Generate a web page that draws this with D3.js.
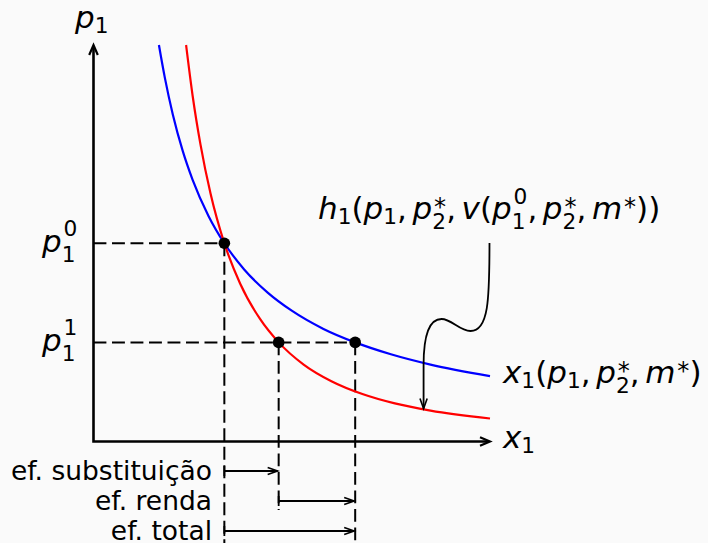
<!DOCTYPE html>
<html>
<head>
<meta charset="utf-8">
<script src="https://cdn.jsdelivr.net/npm/d3@7"></script>
<style>
  html, body { margin: 0; padding: 0; background: #fafafa; }
  svg { display: block; }
</style>
</head>
<body>
<svg id="chart" width="708" height="543"></svg>
<script>
// Marshallian demand x1(p1, p2*, m*)  (quantity, price)
const marshallX = [1.65, 1.8, 2.0, 2.25, 2.5, 2.9, 3.3, 3.8, 4.4, 5.0, 5.8, 6.6, 7.5, 8.5, 10.0];
const marshallP = [10.0, 9.17, 8.25, 7.33, 6.6, 5.69, 5.0, 4.34, 3.75, 3.3, 2.84, 2.5, 2.2, 1.94, 1.65];

// Hicksian demand h1(p1, p2*, v(p1^0, p2*, m*))
const hicksX = [2.335, 2.5, 2.7, 2.95, 3.3, 3.7, 4.2, 4.67, 5.3, 6.0, 6.8, 7.6, 8.5, 10.0];
const hicksP = [10.0, 8.72, 7.48, 6.26, 5.0, 3.98, 3.09, 2.5, 1.94, 1.52, 1.19, 0.96, 0.78, 0.58];

// Price levels before (0) and after (1) the change
const priceLevels = [5.0, 2.5];
const priceTags = ["0", "1"];

// Chosen bundles: initial, compensated, final
const pointX = [3.3, 4.67, 6.6];
const pointP = [5.0, 2.5, 2.5];

// Decomposition of the price effect along x1
const effectNames = ["ef. substituição", "ef. renda", "ef. total"];
const effectFrom = [3.3, 4.67, 3.3];
const effectTo = [4.67, 6.6, 6.6];

const W = 708, H = 543;
const FONT = "DejaVu Sans";
const MATH = 31;
const TEXT = 26.5;

const svg = d3.select("#chart");
svg.append("rect").attr("width", W).attr("height", H).attr("fill", "#fafafa");

const x = d3.scaleLinear().domain([0, 10]).range([93.5, 490]);
const y = d3.scaleLinear().domain([0, 10]).range([441.5, 45]);

// open "->" style arrow head at (tx, ty) pointing along angle a
function head(g, tx, ty, a, len = 10, half = 4.3, w = 2) {
  const c = Math.cos(a), s = Math.sin(a);
  const bx = tx - len * c, by = ty - len * s;
  const p = `M${bx - half * s},${by + half * c}L${tx},${ty}L${bx + half * s},${by - half * c}`;
  g.append("path").attr("d", p).attr("fill", "none").attr("stroke", "#000")
    .attr("stroke-width", w).attr("stroke-linejoin", "miter");
}

// math label: italic letters, upright digits, stacked sub/superscripts
function mathLabel(parent, x0, y0, items, size) {
  const g = parent.append("g");
  const sm = size * 0.7;
  let cx = x0;
  items.forEach(it => {
    if (it.gap !== undefined) { cx += it.gap * size; return; }
    const t = g.append("text").attr("x", cx).attr("y", y0)
      .attr("font-family", FONT).attr("font-size", size)
      .attr("font-style", it.i ? "oblique" : "normal").attr("fill", "#000").text(it.b);
    const bx = cx + t.node().getComputedTextLength();
    let adv = 0;
    const both = it.sub !== undefined && it.sup !== undefined;
    if (it.sup !== undefined) {
      const star = it.sup === "*";
      const off = it.i ? 0.06 * size : 0;
      const dy = star ? 0.12 * size : (both ? 0.5 * size : 0.45 * size);
      const s = g.append("text").attr("x", bx + off).attr("y", y0 - dy)
        .attr("font-family", FONT).attr("font-size", star ? size * 0.78 : sm)
        .attr("fill", "#000").text(it.sup);
      adv = Math.max(adv, off + s.node().getComputedTextLength());
    }
    if (it.sub !== undefined) {
      const dy = both ? 0.32 * size : 0.15 * size;
      const s = g.append("text").attr("x", bx).attr("y", y0 + dy)
        .attr("font-family", FONT).attr("font-size", sm).attr("fill", "#000").text(it.sub);
      adv = Math.max(adv, s.node().getComputedTextLength());
    }
    cx = bx + adv;
  });
  return g;
}

const dash = "12.9,5.6";

// guide lines from the axis to each chosen bundle
const guides = svg.append("g").attr("stroke", "#000").attr("stroke-width", 2)
  .attr("stroke-dasharray", dash).attr("fill", "none");
guides.append("line").attr("x1", x(0)).attr("y1", y(priceLevels[0]))
  .attr("x2", x(pointX[0])).attr("y2", y(priceLevels[0]));
guides.append("line").attr("x1", x(0)).attr("y1", y(priceLevels[1]))
  .attr("x2", x(pointX[2])).attr("y2", y(priceLevels[1]));

const rowY = [471, 501, 531];
const dropTo = [H, rowY[1] + 9, H];
pointX.forEach((px, i) => {
  guides.append("line").attr("x1", x(px)).attr("y1", y(pointP[i]))
    .attr("x2", x(px)).attr("y2", dropTo[i]);
});

// axes
const axes = svg.append("g");
axes.append("path")
  .attr("d", `M${x(0)},${y(10) + 1}L${x(0)},${y(0)}L${x(10) - 1},${y(0)}`)
  .attr("fill", "none").attr("stroke", "#000").attr("stroke-width", 2.6);
head(axes, x(0), y(10), -Math.PI / 2, 10, 4.3, 2.2);
head(axes, x(10), y(0), 0, 10, 4.3, 2.2);

// demand curves
const line = d3.line().x(d => x(d[0])).y(d => y(d[1])).curve(d3.curveMonotoneX);
svg.append("path").datum(d3.zip(marshallX, marshallP)).attr("d", line)
  .attr("fill", "none").attr("stroke", "#0000ff").attr("stroke-width", 2.2);
svg.append("path").datum(d3.zip(hicksX, hicksP)).attr("d", line)
  .attr("fill", "none").attr("stroke", "#ff0000").attr("stroke-width", 2.2);

// chosen bundles
svg.append("g").selectAll("circle").data(d3.zip(pointX, pointP)).join("circle")
  .attr("cx", d => x(d[0])).attr("cy", d => y(d[1])).attr("r", 5.8).attr("fill", "#000");

// effect arrows below the axis
const eff = svg.append("g");
effectNames.forEach((name, i) => {
  const x1 = x(effectFrom[i]), x2 = x(effectTo[i]), yy = rowY[i];
  eff.append("line").attr("x1", x1).attr("y1", yy - 5).attr("x2", x1).attr("y2", yy + 5)
    .attr("stroke", "#000").attr("stroke-width", 1.8);
  eff.append("line").attr("x1", x1).attr("y1", yy).attr("x2", x2 - 1).attr("y2", yy)
    .attr("stroke", "#000").attr("stroke-width", 1.8);
  head(eff, x2 - 1, yy, 0, 10, 3.6, 1.6);
  eff.append("text").attr("x", 212).attr("y", yy + 9).attr("text-anchor", "end")
    .attr("font-family", FONT).attr("font-size", TEXT).attr("fill", "#000").text(name);
});

// connector from the Hicksian label down to its curve
const conn = [
  [9.987, 5.006], [9.987, 3.569], [9.962, 2.787], [9.509, 2.787],
  [9.232, 2.787], [9.030, 3.090], [8.778, 3.090],
  [8.476, 3.090], [8.325, 2.686], [8.325, 1.930]
];
const cp = conn.map(d => [x(d[0]), y(d[1])]);
const tip = [x(8.325), y(0.83)];
const cpath = `M${cp[0]}C${cp[1]} ${cp[2]} ${cp[3]}C${cp[4]} ${cp[5]} ${cp[6]}C${cp[7]} ${cp[8]} ${cp[9]}L${tip}`;
svg.append("path").attr("d", cpath).attr("fill", "none").attr("stroke", "#000").attr("stroke-width", 1.8);
head(svg, tip[0], tip[1], Math.PI / 2, 10, 3.6, 1.6);

// labels
mathLabel(svg, 75, 28, [{ b: "p", i: 1, sub: "1" }], MATH);
priceLevels.forEach((pl, i) => {
  mathLabel(svg, 42, y(pl) + 8.5, [{ b: "p", i: 1, sub: "1", sup: priceTags[i] }], MATH);
});
mathLabel(svg, 503, 448, [{ b: "x", i: 1, sub: "1" }], MATH);
const G = 0.18;
mathLabel(svg, 503, 383, [
  { b: "x", i: 1, sub: "1" }, { b: "(" }, { b: "p", i: 1, sub: "1" }, { b: "," }, { gap: G },
  { b: "p", i: 1, sub: "2", sup: "*" }, { b: "," }, { gap: G },
  { b: "m", i: 1, sup: "*" }, { b: ")" }
], MATH);
mathLabel(svg, 318, 219, [
  { b: "h", i: 1, sub: "1" }, { b: "(" }, { b: "p", i: 1, sub: "1" }, { b: "," }, { gap: G },
  { b: "p", i: 1, sub: "2", sup: "*" }, { b: "," }, { gap: G }, { b: "v", i: 1 }, { b: "(" },
  { b: "p", i: 1, sub: "1", sup: "0" }, { b: "," }, { gap: G },
  { b: "p", i: 1, sub: "2", sup: "*" }, { b: "," }, { gap: G },
  { b: "m", i: 1, sup: "*" }, { b: ")" }, { b: ")" }
], MATH);
</script>
</body>
</html>
